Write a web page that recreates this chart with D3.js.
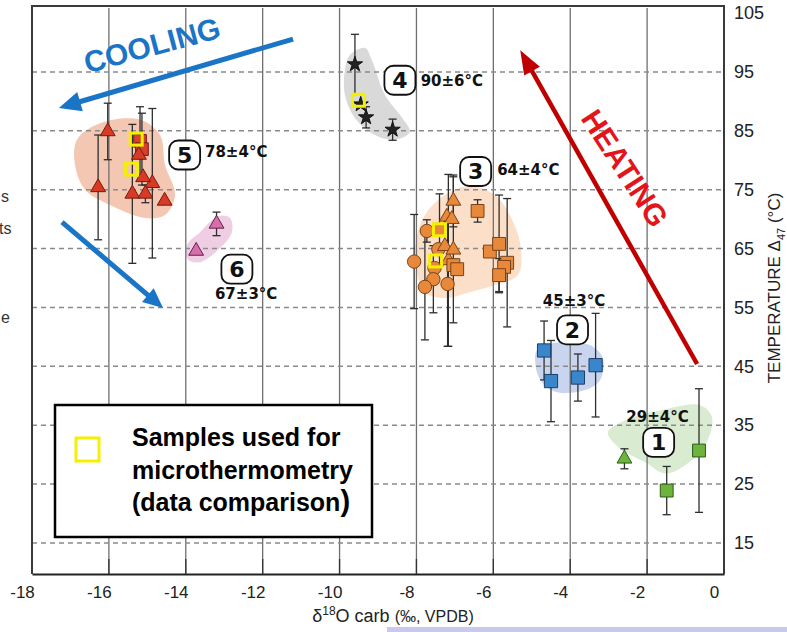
<!DOCTYPE html>
<html>
<head>
<meta charset="utf-8">
<script src="https://cdn.jsdelivr.net/npm/d3@7"></script>
<style>
  html, body { margin: 0; padding: 0; background: #fff; }
  svg { display: block; }
</style>
</head>
<body>
<svg id="chart" width="787" height="632"></svg>
<script>
// ---- axis values ----
const xTicks = [-18, -16, -14, -12, -10, -8, -6, -4, -2, 0];
const yTicks = [15, 25, 35, 45, 55, 65, 75, 85, 95, 105];
const xGrid = [-16, -14, -12, -10, -8, -6, -4, -2];
const yGrid = [15, 25, 35, 45, 55, 65, 75, 85, 95];

// ---- samples: [δ18O carb, temperature Δ47, ± error] ----
const g1Squares   = [[-1.49, 23.9, 4.1], [-0.65, 30.7, 10.5]];
const g1Triangles = [[-2.59, 29.3, 1.7]];

const g2Squares = [[-4.68, 47.7, 5.0], [-4.50, 42.5, 6.9], [-3.80, 43.1, 4.0], [-3.34, 45.2, 8.8]];

const g3Circles = [[-8.06, 62.8, 8.0], [-7.73, 68.0, 1.9], [-7.43, 64.9, 0], [-7.53, 61.7, 0],
                   [-7.56, 59.8, 5.7], [-7.78, 58.5, 9.0], [-7.19, 59.0, 10.6]];
const g3Triangles = [[-7.04, 73.1, 4.4], [-7.21, 70.4, 0], [-7.08, 70.0, 0], [-7.17, 63.0, 14.6],
                     [-7.26, 65.4, 0], [-7.04, 64.8, 12.4]];
const g3Squares = [[-7.40, 68.2, 6.1], [-6.41, 71.4, 1.9], [-7.04, 62.2, 0], [-6.94, 61.5, 0],
                   [-6.09, 64.5, 0], [-5.85, 65.8, 8.3], [-5.64, 62.6, 10.9], [-5.72, 61.9, 0],
                   [-5.85, 60.5, 2.8]];

const g4Stars = [[-9.60, 96.3, 5.1], [-9.45, 89.5, 0], [-9.31, 87.3, 1.8], [-8.62, 85.2, 1.8]];

const g5Triangles = [[-16.03, 84.9, 4.8], [-16.28, 75.4, 8.9], [-15.39, 74.3, 11.8], [-14.87, 76.1, 12.7],
                     [-15.05, 74.3, 1.5], [-14.55, 73.1, 0], [-15.11, 77.1, 0], [-15.22, 80.9, 0]];
const g5Squares = [[-15.19, 83.3, 5.8], [-15.14, 81.9, 6.1]];

const g6Triangles = [[-13.20, 69.2, 2.0], [-13.73, 64.6, 0]];

// samples used for microthermometry
const highlighted = [[-15.29, 83.6], [-15.41, 78.5], [-9.51, 90.2], [-7.40, 68.2], [-7.50, 62.9]];

// ---- group envelopes (δ18O, T) ----
const env1 = [[-3.02, 33.8], [-2.57, 35.8], [-1.66, 37.5], [-0.62, 38.4], [-0.31, 36.3], [-0.49, 31.6],
              [-1.01, 28.2], [-1.53, 26.8], [-2.05, 28.7], [-2.70, 31.0]];
const env2 = [[-4.86, 47.8], [-4.39, 49.0], [-3.48, 48.6], [-3.15, 46.4], [-3.22, 42.7], [-3.61, 41.0],
              [-4.39, 40.7], [-4.78, 42.7], [-4.91, 45.7]];
const env3 = [[-7.78, 70.7], [-7.26, 74.1], [-6.61, 75.6], [-5.96, 74.1], [-5.51, 69.9], [-5.28, 64.8],
              [-5.36, 60.5], [-5.96, 58.8], [-6.61, 57.6], [-7.26, 56.6], [-7.78, 57.6], [-8.01, 61.7],
              [-8.01, 66.5]];
const env4 = [[-9.73, 97.9], [-9.34, 99.1], [-9.16, 97.0], [-8.82, 91.1], [-8.37, 87.2], [-8.17, 84.8],
              [-8.56, 83.5], [-9.08, 84.3], [-9.60, 87.2], [-9.86, 91.1], [-9.86, 95.3]];
const env5 = [[-16.83, 83.5], [-16.23, 86.3], [-15.19, 86.9], [-14.67, 84.3], [-14.54, 79.2], [-14.28, 74.1],
              [-14.54, 70.7], [-15.06, 70.2], [-15.97, 72.4], [-16.62, 75.0], [-16.88, 79.2]];
const env6 = [[-13.97, 65.6], [-13.63, 67.8], [-13.16, 70.5], [-12.85, 70.2], [-12.80, 67.8], [-13.11, 65.1],
              [-13.63, 62.7], [-13.94, 63.1]];

// ---- group labels ----
const groupIds   = ["1", "2", "3", "4", "5", "6"];
const groupTemps = ["29±4°C", "45±3°C", "64±4°C", "90±6°C", "78±4°C", "67±3°C"];

// ---- layout ----
const svg = d3.select("#chart");
const x = d3.scaleLinear().domain([-18, 0]).range([32, 724]);
const y = d3.scaleLinear().domain([9.73, 106.21]).range([574, 6]);

// where each group's badge and temperature sit (data coords)
const badgePos = [[-1.70, 32.1], [-3.94, 51.2], [-6.46, 78.1], [-8.43, 93.6], [-14.03, 80.9], [-12.67, 61.5]];
const tempPos  = [[-1.73, 36.4, "middle"], [-3.90, 56.2, "middle"], [-5.90, 78.4, "start"],
                  [-7.89, 93.6, "start"], [-13.50, 81.4, "start"], [-12.43, 57.3, "middle"]];

// bottom strip (under the axis title)
svg.append("rect").attr("x", 387).attr("y", 627).attr("width", 400).attr("height", 5).attr("fill", "#c9c9ee");

// ---- envelopes ----
const envLine = d3.line().x(d => x(d[0])).y(d => y(d[1])).curve(d3.curveCatmullRomClosed.alpha(0.5));
const envs = [
  [env5, "#f4c7b2"], [env6, "#efcde2"], [env4, "#d9d9d9"],
  [env3, "#fbdfc9"], [env2, "#c9d5ef"], [env1, "#d9ebd0"]
];
svg.append("g").selectAll("path").data(envs).join("path")
  .attr("d", d => envLine(d[0]))
  .attr("fill", d => d[1]);

// ---- grid ----
const grid = svg.append("g");
grid.selectAll("line.v").data(xGrid).join("line")
  .attr("x1", d => x(d)).attr("x2", d => x(d))
  .attr("y1", 8).attr("y2", y.range()[0])
  .attr("stroke", "#6f6f6f").attr("stroke-width", 1.3);
grid.selectAll("line.h").data(yGrid).join("line")
  .attr("x1", x.range()[0]).attr("x2", x.range()[1])
  .attr("y1", d => y(d)).attr("y2", d => y(d))
  .attr("stroke", "#8a8a8a").attr("stroke-width", 1.5)
  .attr("stroke-dasharray", "5,4");

// ---- frame ----
svg.append("path")
  .attr("d", `M${x.range()[0]},${y.range()[0]}V${y.range()[1]}H${x.range()[1]}V${y.range()[0]}`)
  .attr("fill", "none").attr("stroke", "#3a3a3a").attr("stroke-width", 2);

// ---- axes ----
const xAxis = svg.append("g").attr("transform", `translate(0,${y.range()[0]})`)
  .call(d3.axisBottom(x).tickValues(xTicks).tickFormat(d => String(d)).tickSize(0).tickPadding(12));
xAxis.select(".domain").attr("stroke", "#222").attr("stroke-width", 2.2);
xAxis.selectAll("text").attr("dx", -10).attr("font-family", "Liberation Sans, Arial, sans-serif")
  .attr("font-size", 17).attr("fill", "#222");
svg.append("g").selectAll("line").data(xGrid).join("line")
  .attr("x1", d => x(d)).attr("x2", d => x(d))
  .attr("y1", y.range()[0]).attr("y2", y.range()[0] - 15)
  .attr("stroke", "#333").attr("stroke-width", 1.3);

const yAxis = svg.append("g").attr("transform", `translate(${x.range()[1]},0)`)
  .call(d3.axisRight(y).tickValues(yTicks).tickSize(0).tickPadding(10));
yAxis.select(".domain").remove();
yAxis.selectAll("text").attr("font-family", "Liberation Sans, Arial, sans-serif")
  .attr("font-size", 18).attr("fill", "#222");

// axis titles
const xt = svg.append("text").attr("x", 393).attr("y", 622).attr("text-anchor", "middle")
  .attr("font-family", "Liberation Sans, Arial, sans-serif").attr("fill", "#222");
xt.append("tspan").attr("font-size", 18).text("δ");
xt.append("tspan").attr("font-size", 12).attr("dy", -7).text("18");
xt.append("tspan").attr("font-size", 18).attr("dy", 7).text("O carb ");
xt.append("tspan").attr("font-size", 16).text("(‰, VPDB)");

const yt = svg.append("text").attr("transform", "translate(780,288) rotate(-90)")
  .attr("text-anchor", "middle").attr("font-family", "Liberation Sans, Arial, sans-serif")
  .attr("fill", "#222");
yt.append("tspan").attr("font-size", 17).text("TEMPERATURE Δ");
yt.append("tspan").attr("font-size", 11).attr("dy", 5).text("47");
yt.append("tspan").attr("font-size", 17).attr("dy", -5).text(" (°C)");

// ---- error bars ----
function errorBars(data) {
  const g = svg.append("g").attr("stroke", "#2e2e2e").attr("stroke-width", 1.3);
  data.filter(d => d[2] > 0).forEach(d => {
    const cx = x(d[0]), y0 = y(d[1] - d[2]), y1 = y(d[1] + d[2]);
    g.append("line").attr("x1", cx).attr("x2", cx).attr("y1", y0).attr("y2", y1);
    g.append("line").attr("x1", cx - 4).attr("x2", cx + 4).attr("y1", y0).attr("y2", y0);
    g.append("line").attr("x1", cx - 4).attr("x2", cx + 4).attr("y1", y1).attr("y2", y1);
  });
}
const allSets = [g5Triangles, g5Squares, g6Triangles, g4Stars, g3Circles, g3Triangles, g3Squares,
                 g2Squares, g1Squares, g1Triangles];
allSets.forEach(errorBars);

// ---- markers ----
function markers(data, type, size, fill, stroke) {
  svg.append("g").selectAll("path").data(data).join("path")
    .attr("transform", d => `translate(${x(d[0])},${y(d[1])})`)
    .attr("d", d3.symbol(type, size))
    .attr("fill", fill).attr("stroke", stroke).attr("stroke-width", 1);
}
markers(g5Squares, d3.symbolSquare, 160, "#d8402c", "#6e1d12");
markers(g5Triangles, d3.symbolTriangle, 95, "#d83a26", "#6e1d12");
markers(g6Triangles, d3.symbolTriangle, 95, "#d86fac", "#5e2348");
markers(g4Stars, d3.symbolStar, 72, "#222", "#111");
markers(g3Circles, d3.symbolCircle, 140, "#e8883b", "#7a4216");
markers(g3Triangles, d3.symbolTriangle, 95, "#e8883b", "#7a4216");
markers(g3Squares, d3.symbolSquare, 165, "#e8883b", "#7a4216");
markers(g2Squares, d3.symbolSquare, 175, "#3a86cb", "#1d3f66");
markers(g1Squares, d3.symbolSquare, 165, "#6db43c", "#2f5a1b");
markers(g1Triangles, d3.symbolTriangle, 95, "#6db43c", "#2f5a1b");

// microthermometry samples
svg.append("g").selectAll("rect").data(highlighted).join("rect")
  .attr("x", d => x(d[0]) - 6).attr("y", d => y(d[1]) - 6)
  .attr("width", 12).attr("height", 12)
  .attr("fill", "none").attr("stroke", "#f4f000").attr("stroke-width", 3);

// ---- group badges and temperatures ----
const badges = svg.append("g");
groupIds.forEach((id, i) => {
  const [bx, by] = badgePos[i];
  badges.append("rect").attr("x", x(bx) - 15.5).attr("y", y(by) - 14.5)
    .attr("width", 31).attr("height", 29).attr("rx", 9)
    .attr("fill", "#fff").attr("stroke", "#111").attr("stroke-width", 1.8);
  badges.append("text").attr("x", x(bx)).attr("y", y(by)).attr("dy", "0.36em")
    .attr("text-anchor", "middle").attr("font-family", "DejaVu Sans, sans-serif")
    .attr("font-weight", "bold").attr("font-size", 22).attr("fill", "#111").text(id);
  const [tx, ty, anchor] = tempPos[i];
  badges.append("text").attr("x", x(tx)).attr("y", y(ty)).attr("dy", "0.36em")
    .attr("text-anchor", anchor).attr("font-family", "DejaVu Sans, sans-serif")
    .attr("font-weight", "bold").attr("font-size", 15).attr("fill", "#111").text(groupTemps[i]);
});

// ---- trend arrows ----
function arrow(p0, p1, color, width, headLen, headHalf) {
  const x0 = x(p0[0]), y0 = y(p0[1]), x1 = x(p1[0]), y1 = y(p1[1]);
  const dx = x1 - x0, dy = y1 - y0, len = Math.hypot(dx, dy);
  const ux = dx / len, uy = dy / len;
  const bx = x1 - ux * headLen, by = y1 - uy * headLen;
  svg.append("line").attr("x1", x0).attr("y1", y0)
    .attr("x2", bx + ux * 2).attr("y2", by + uy * 2)
    .attr("stroke", color).attr("stroke-width", width);
  svg.append("path")
    .attr("d", `M${x1},${y1}L${bx - uy * headHalf},${by + ux * headHalf}L${bx + uy * headHalf},${by - ux * headHalf}Z`)
    .attr("fill", color);
}
arrow([-11.21, 100.6], [-17.30, 88.9], "#1a75c6", 5, 22, 10);
arrow([-17.22, 69.5], [-14.59, 54.9], "#1a75c6", 5, 20, 9);
arrow([-0.70, 45.4], [-5.30, 98.7], "#c00000", 4.5, 24, 9);

svg.append("text").attr("transform", `translate(${x(-14.88)},${y(99.6)}) rotate(-15)`)
  .attr("text-anchor", "middle").attr("dy", "0.36em")
  .attr("font-family", "Liberation Sans, Arial, sans-serif").attr("font-weight", "bold")
  .attr("font-size", 30).attr("fill", "#1a75c6").text("COOLING");
svg.append("text").attr("transform", `translate(${x(-2.57)},${y(78.7)}) rotate(57)`)
  .attr("text-anchor", "middle").attr("dy", "0.36em")
  .attr("font-family", "Liberation Sans, Arial, sans-serif").attr("font-weight", "bold")
  .attr("font-size", 30).attr("fill", "#e3151b").text("HEATING");

// ---- legend ----
const lg = svg.append("g");
lg.append("rect").attr("x", 55).attr("y", 405).attr("width", 317).attr("height", 132)
  .attr("fill", "#fff").attr("stroke", "#000").attr("stroke-width", 2.5);
lg.append("rect").attr("x", 76).attr("y", 438).attr("width", 23).attr("height", 23)
  .attr("fill", "none").attr("stroke", "#f4f000").attr("stroke-width", 3);
const legendLines = ["Samples used for", "microthermometry", "(data comparison"];
lg.selectAll("text").data(legendLines).join("text")
  .attr("x", 132).attr("y", (d, i) => 446 + i * 32.5)
  .attr("font-family", "Liberation Sans, Arial, sans-serif").attr("font-weight", "bold")
  .attr("font-size", 25).attr("fill", "#000").text(d => d)
  .filter((d, i) => i === 2).append("tspan").attr("font-size", 29).text(")");

// ---- fragments of neighbouring text at the left edge ----
const edge = svg.append("g").attr("font-family", "Liberation Sans, Arial, sans-serif")
  .attr("font-size", 16).attr("fill", "#333");
edge.append("text").attr("x", 1).attr("y", 202).text("s");
edge.append("text").attr("x", -1).attr("y", 234).text("ts");
edge.append("text").attr("x", 1).attr("y", 323).text("e");
</script>
</body>
</html>
